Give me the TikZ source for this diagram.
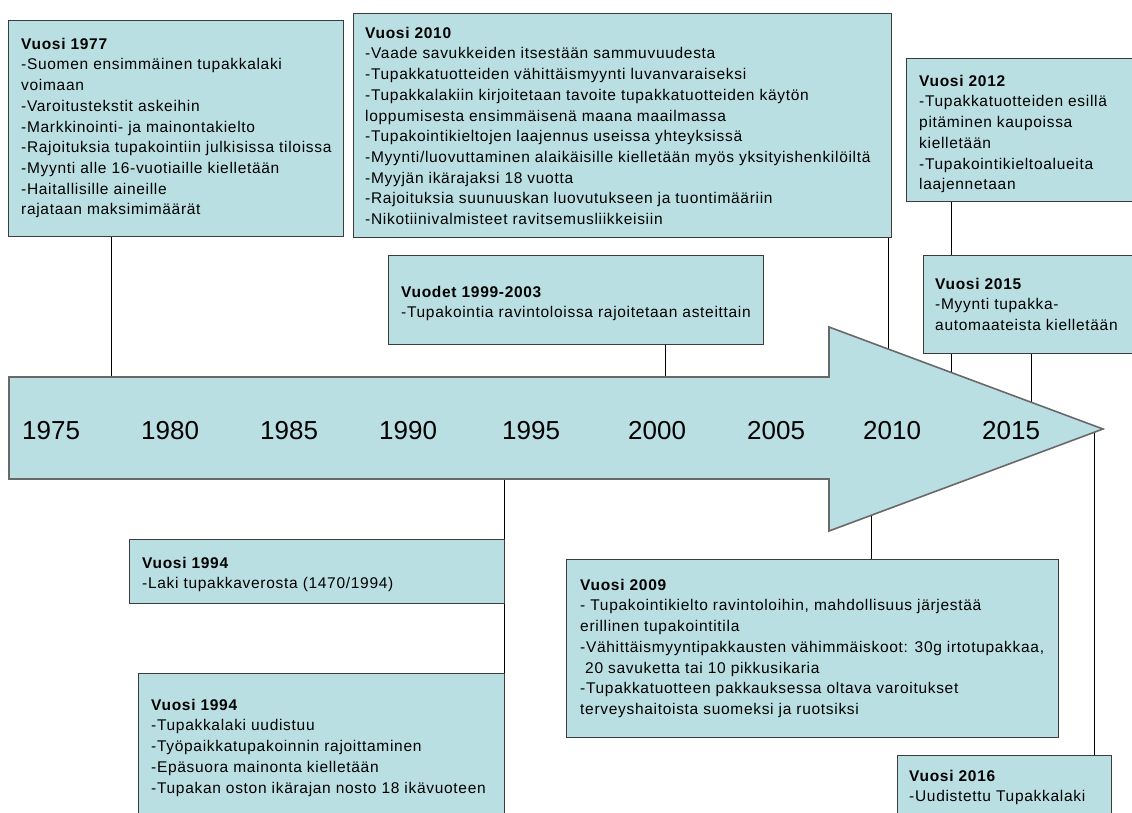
\documentclass[tikz,border=0pt]{standalone}
\usepackage{fontspec}
\setmainfont{Liberation Sans}
\newfontfamily\bodyfont[LetterSpace=4.5]{Liberation Sans}
\usetikzlibrary{calc,backgrounds}
\definecolor{boxfill}{RGB}{186,223,227}
\definecolor{boxline}{RGB}{60,60,60}
\definecolor{arrline}{RGB}{105,105,105}
\tikzset{
  box/.style={draw=boxline, line width=0.9pt, fill=boxfill, rectangle, inner sep=0pt, anchor=north west},
  txt/.style={anchor=north west, inner sep=0pt, align=left, text=black,
    font=\bodyfont\fontsize{15.5}{20.7}\selectfont},
  year/.style={anchor=base west, inner sep=0pt, text=black, font=\fontsize{26}{26}\selectfont},
  conn/.style={draw=black, line width=0.9pt},
}
\newcommand\fl{\rule{0pt}{14pt}}
\begin{document}
\begin{tikzpicture}[x=1pt,y=-1pt]
\useasboundingbox (0,0) rectangle (1132,812);
\clip (0,0) rectangle (1132,812);

% arrow
\coordinate (htop) at (829,327);
\coordinate (tip) at (1103,429);
\coordinate (hbot) at (829,531);
\draw[arrline, line width=1.6pt, fill=boxfill, line join=miter]
  (9,377) -- (829,377) -- (htop) -- (tip) -- (hbot) -- (829,479) -- (9,479) -- cycle;

% year labels
\node[year] (y1975) at (22,439) {1975};
\node[year] (y1980) at (141,439) {1980};
\node[year] (y1985) at (260,439) {1985};
\node[year] (y1990) at (379,439) {1990};
\node[year] (y1995) at (502,439) {1995};
\node[year] (y2000) at (628,439) {2000};
\node[year] (y2005) at (747,439) {2005};
\node[year] (y2010) at (863,439) {2010};
\node[year] (y2015) at (982,439) {2015};

% boxes
\node[box, minimum width=335pt, minimum height=216pt] (b1977) at (8,20) {};
\node[box, minimum width=538pt, minimum height=224pt] (b2010) at (353,13) {};
\node[box, minimum width=229pt, minimum height=143pt] (b2012) at (906,58) {};
\node[box, minimum width=212pt, minimum height=98pt] (b2015) at (923,255) {};
\node[box, minimum width=375pt, minimum height=89pt] (b1999) at (388,255) {};
\node[box, minimum width=375pt, minimum height=64pt] (b1994a) at (129,539) {};
\node[box, minimum width=366pt, minimum height=157pt] (b1994b) at (138,673) {};
\node[box, minimum width=492pt, minimum height=178pt] (b2009) at (566,559) {};
\node[box, minimum width=214pt, minimum height=75pt] (b2016) at (897,755) {};

% connector end points on the arrow
\coordinate (a1977) at (111,377);
\coordinate (a1999) at (665,377);
\coordinate (a1994) at (504,479);
\coordinate (e2010) at ($(htop)!0.2153!(tip)$);
\coordinate (e2012) at ($(htop)!0.4453!(tip)$);
\coordinate (e2015) at ($(htop)!0.7372!(tip)$);
\coordinate (e2009) at ($(hbot)!0.1533!(tip)$);
\coordinate (e2016) at ($(hbot)!0.9672!(tip)$);

\begin{scope}[on background layer]
\fill[white] (0,0) rectangle (1132,812);
\draw[conn] (b1977.south -| a1977) -- (a1977);
\draw[conn] (b1999.south -| a1999) -- (a1999);
\draw[conn] (b2010.south -| e2010) -- (e2010);
\draw[conn] (b2012.south -| e2012) -- (e2012);
\draw[conn] (b2015.south -| e2015) -- (e2015);
\draw[conn] (a1994) -- (b1994b.north -| a1994);
\draw[conn] (e2009) -- (b2009.north -| e2009);
\draw[conn] (e2016) -- (b2016.north -| e2016);
\end{scope}

% texts
\node[txt] (t1977) at (21,35) {\fl\textbf{Vuosi 1977}\\-Suomen ensimmäinen tupakkalaki\\voimaan\\-Varoitustekstit askeihin\\-Markkinointi- ja mainontakielto\\-Rajoituksia tupakointiin julkisissa tiloissa\\-Myynti alle 16-vuotiaille kielletään\\-Haitallisille aineille\\rajataan maksimimäärät};
\node[txt] (t2010) at (365,24) {\fl\textbf{Vuosi 2010}\\-Vaade savukkeiden itsestään sammuvuudesta\\-Tupakkatuotteiden vähittäismyynti luvanvaraiseksi\\-Tupakkalakiin kirjoitetaan tavoite tupakkatuotteiden käytön\\loppumisesta ensimmäisenä maana maailmassa\\-Tupakointikieltojen laajennus useissa yhteyksissä\\-Myynti/luovuttaminen alaikäisille kielletään myös yksityishenkilöiltä\\-Myyjän ikärajaksi 18 vuotta\\-Rajoituksia suunuuskan luovutukseen ja tuontimääriin\\-Nikotiinivalmisteet ravitsemusliikkeisiin};
\node[txt] (t2012) at (919,72) {\fl\textbf{Vuosi 2012}\\-Tupakkatuotteiden esillä\\pitäminen kaupoissa\\kielletään\\-Tupakointikieltoalueita\\laajennetaan};
\node[txt] (t2015) at (935,275) {\fl\textbf{Vuosi 2015}\\-Myynti tupakka-\\automaateista kielletään};
\node[txt] (t1999) at (401,283) {\fl\textbf{Vuodet 1999-2003}\\-Tupakointia ravintoloissa rajoitetaan asteittain};
\node[txt] (t1994a) at (142,554) {\fl\textbf{Vuosi 1994}\\-Laki tupakkaverosta (1470/1994)};
\node[txt] (t1994b) at (151,696) {\fl\textbf{Vuosi 1994}\\-Tupakkalaki uudistuu\\-Työpaikkatupakoinnin rajoittaminen\\-Epäsuora mainonta kielletään\\-Tupakan oston ikärajan nosto 18 ikävuoteen};
\node[txt] (t2009) at (580,576) {\fl\textbf{Vuosi 2009}\\- Tupakointikielto ravintoloihin, mahdollisuus järjestää\\erillinen tupakointitila\\-Vähittäismyyntipakkausten vähimmäiskoot: 30g irtotupakkaa,\\\ 20 savuketta tai 10 pikkusikaria\\-Tupakkatuotteen pakkauksessa oltava varoitukset\\terveyshaitoista suomeksi ja ruotsiksi};
\node[txt] (t2016) at (909,767) {\fl\textbf{Vuosi 2016}\\-Uudistettu Tupakkalaki};
\end{tikzpicture}
\end{document}
